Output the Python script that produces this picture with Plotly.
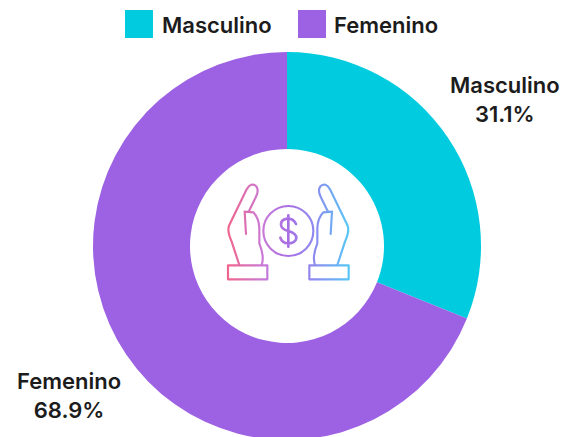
import base64
import plotly.graph_objects as go

categories = ["Masculino", "Femenino"]
values = [31.1, 68.9]
colors = ["#00CBDF", "#9D61E3"]

W, H = 563, 441
cx, cy, r = 287, 246, 194
FONT = "Inter"
INK = "#1c1c1c"

hand = ("M148 315 L125 245 Q110 212 118 195 L170 88 Q183 66 198 78 Q208 90 198 110 L176 155 "
        "M168 222 L164 155 L190 157 Q207 175 208 205 L208 250 Q224 290 215 315")
dollar = ("M318 192 Q310 175 293 176 Q272 178 273 195 Q274 208 295 213 Q320 220 319 235 "
          "Q316 250 295 250 Q276 250 271 233 M295 166 L295 260")
stops = ('<stop offset="0" stop-color="#F2648A"/><stop offset="0.3" stop-color="#C87AD8"/>'
         '<stop offset="0.5" stop-color="#A86FE3"/><stop offset="0.72" stop-color="#8C8CF0"/>'
         '<stop offset="1" stop-color="#55C8F5"/>')
svg = f'''<svg xmlns="http://www.w3.org/2000/svg" width="600" height="420" viewBox="0 0 600 420">
<defs><linearGradient id="g" gradientUnits="userSpaceOnUse" x1="110" y1="0" x2="480" y2="0">{stops}</linearGradient>
<linearGradient id="m" gradientUnits="userSpaceOnUse" x1="480" y1="0" x2="110" y2="0">{stops}</linearGradient></defs>
<g fill="none" stroke="url(#g)" stroke-width="6.5" stroke-linejoin="round" stroke-linecap="round">
<path d="{hand}"/>
<path d="{hand}" stroke="url(#m)" transform="translate(590 0) scale(-1 1)"/>
<rect x="114" y="316" width="118" height="42"/><rect x="358" y="316" width="118" height="42"/>
<circle cx="295" cy="213" r="75"/><path d="{dollar}" stroke-width="8"/>
</g></svg>'''
icon = "data:image/svg+xml;base64," + base64.b64encode(svg.encode()).decode()

fig = go.Figure(go.Pie(
    labels=categories, values=values, sort=False, direction="clockwise", rotation=0,
    hole=0.5, marker=dict(colors=colors, line=dict(width=0)),
    textinfo="none", automargin=False, showlegend=False, hoverinfo="label+percent",
    domain=dict(x=[(cx - r) / W, (cx + r) / W], y=[1 - (cy + r) / H, 1 - (cy - r) / H]),
))

shapes = []
annotations = []
total = sum(values)
for name, value, color, x0, tx, lx, ly in zip(categories, values, colors, [125, 298], [162, 334],
                                              [505, 69], [99, 395]):
    shapes.append(dict(type="rect", xref="paper", yref="paper", x0=x0 / W, x1=(x0 + 28) / W,
                       y0=1 - 38 / H, y1=1 - 10 / H, fillcolor=color, line_width=0))
    annotations.append(dict(text=name, xref="paper", yref="paper", x=tx / W, y=1 - 25 / H,
                            xanchor="left", yanchor="middle", showarrow=False, xshift=-2,
                            font=dict(family=FONT, size=22, color=INK, weight=600)))
    annotations.append(dict(text=f"{name}<br>{value / total:.1%}", xref="paper", yref="paper",
                            x=lx / W, y=1 - ly / H, xanchor="center", yanchor="middle",
                            align="center", showarrow=False,
                            font=dict(family=FONT, size=22, color=INK, weight=600)))

fig.update_layout(
    width=W, height=H, margin=dict(l=0, r=0, t=0, b=0), paper_bgcolor="white",
    shapes=shapes, annotations=annotations,
    images=[dict(source=icon, xref="paper", yref="paper", x=190 / W, y=1 - 160 / H,
                 sizex=200 / W, sizey=140 / H, xanchor="left", yanchor="top",
                 sizing="stretch", layer="above")],
)
fig.write_html("out.html", config={"displayModeBar": False},
               post_script="document.documentElement.style.overflow='hidden';document.body.style.margin='0';document.body.style.overflow='hidden';")
